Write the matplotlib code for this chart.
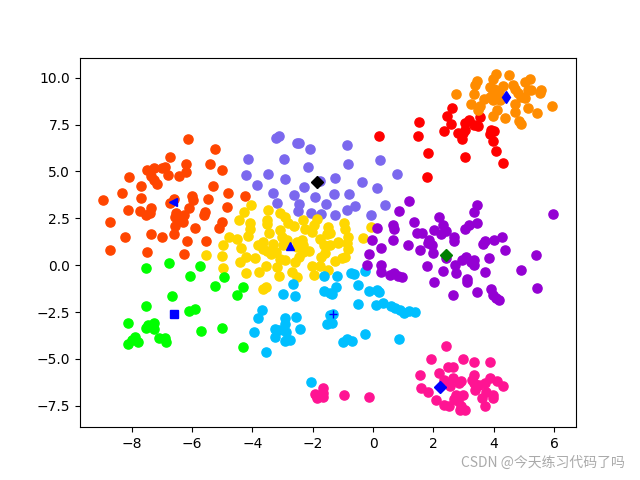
import matplotlib
matplotlib.use('Agg')
import matplotlib.pyplot as plt

# cluster members
orangered_x = [-6.15, -5.25, -6.75, -6.21, -5.42, -5.02, -6.21, -7.51, -7.28, -7.01, -6.90, -6.81, -6.45, -7.35, -7.25, -7.15, -8.08, -7.71, -5.32, -8.31, -8.97, -7.68, -4.82, -6.02, -5.98, -5.48, -4.25, -6.75, -6.61, -4.85, -6.12, -8.14, -7.74, -7.38, -7.41, -7.54, -6.55, -6.28, -5.58, -5.62, -6.58, -6.38, -8.71, -6.31, -5.02, -6.58, -5.12, -5.92, -7.35, -6.61, -8.24, -7.01, -6.18, -5.55, -8.71, -7.48, -6.28]
orangered_y = [6.72, 6.18, 5.79, 5.38, 5.38, 5.06, 4.99, 5.06, 5.17, 5.17, 5.22, 4.79, 4.74, 4.74, 4.53, 4.31, 4.69, 4.21, 4.21, 3.83, 3.46, 3.57, 3.83, 3.67, 3.46, 3.51, 3.67, 3.30, 3.51, 3.09, 3.03, 2.93, 2.87, 3.03, 2.76, 2.66, 2.76, 2.66, 2.82, 2.66, 2.55, 2.44, 2.28, 2.28, 2.28, 2.07, 1.96, 1.96, 1.64, 1.64, 1.48, 1.48, 1.27, 1.27, 0.79, 0.69, 0.58]

slate_x = [-3.11, -3.21, -2.52, -2.44, -2.09, -4.15, -2.96, -2.16, -4.22, -3.49, -2.92, -3.85, -2.29, -3.32, -2.62, -1.93, -3.19, -2.46, -1.56, -2.49, -2.06, -1.73, -1.77, -0.86, 0.23, -0.83, 0.80, -1.26, -0.37, 0.13, -1.30, -0.80, 0.40, -0.60, -0.86, -1.26, -0.07]
slate_y = [6.88, 6.77, 6.50, 6.50, 6.18, 5.65, 5.65, 5.22, 4.79, 4.85, 4.58, 4.26, 4.15, 3.83, 3.73, 3.62, 3.30, 3.25, 3.25, 2.87, 2.76, 2.71, 4.51, 6.39, 5.59, 5.38, 4.85, 4.63, 4.42, 4.10, 3.78, 3.78, 3.19, 3.14, 2.93, 2.66, 2.66]

gold_x = [-4.05, -3.49, -4.29, -3.09, -2.92, -4.45, -4.09, -3.52, -3.52, -2.82, -2.62, -2.33, -1.86, -1.96, -4.09, -3.09, -2.26, -2.03, -1.49, -1.53, -3.44, -4.15, -4.79, -4.52, -3.01, -1.76, -4.98, -4.39, -3.82, -3.66, -3.32, -2.86, -2.53, -2.35, -2.33, -1.63, -5.55, -5.02, -3.92, -4.22, -4.42, -4.98, -4.22, -3.79, -3.56, -3.66, -3.52, -3.39, -3.22, -3.09, -2.92, -3.19, -3.12, -2.69, -2.52, -2.59, -2.46, -2.33, -2.13, -2.03, -1.76, -1.96, -1.73, -1.59, -1.49, -3.66, -3.56, -2.99, -2.53, -1.16, -0.86, -0.83, -0.93, -1.03, -1.26, -0.96, -0.93, -0.83, -1.16, -0.33, -0.07, -1.44, -1.44]
gold_y = [3.19, 2.93, 2.82, 2.76, 2.55, 2.39, 2.23, 2.39, 2.18, 2.23, 2.07, 2.39, 2.44, 2.12, 1.91, 1.86, 1.91, 1.75, 2.02, 1.64, 1.70, 1.54, 1.48, 1.38, 1.48, 1.38, 1.06, 0.90, 1.06, 1.22, 1.11, 1.32, 1.22, 1.32, 1.06, 1.06, 0.53, 0.47, 0.37, 0.42, 0.15, -0.17, -0.43, -0.38, -0.06, 0.85, 0.78, 0.58, 0.69, 0.31, 0.26, -0.11, -0.60, -0.38, -0.65, 0.15, 0.42, 0.69, 0.74, -0.06, -0.06, -0.54, 0.42, 0.63, -0.27, -1.29, -1.15, 1.08, 0.99, 1.20, 1.20, 0.85, 0.46, 0.37, 0.20, 2.23, 1.91, 1.48, 1.22, 1.43, 2.02, 1.70, 1.06]

lime_x = [-7.54, -6.78, -5.75, -6.08, -4.95, -5.25, -4.32, -4.52, -6.68, -7.54, -5.92, -6.12, -8.14, -7.25, -7.45, -7.54, -7.28, -5.72, -5.02, -7.88, -7.11, -6.91, -7.98, -7.81, -6.88, -8.11, -4.32]
lime_y = [-0.17, 0.10, -0.06, -0.60, -0.65, -1.13, -1.18, -1.61, -1.66, -2.20, -2.36, -2.46, -3.10, -3.10, -3.21, -3.37, -3.42, -3.53, -3.37, -3.85, -3.90, -3.90, -4.01, -4.12, -4.12, -4.22, -4.38]

sky_x = [-2.66, -2.99, -2.59, -1.63, -1.63, -1.44, -3.69, -3.82, -2.92, -2.56, -2.92, -3.95, -3.26, -3.12, -2.89, -2.43, -3.26, -2.92, -2.76, -3.56, -2.06, -1.53, -1.44, -1.20, -0.73, -0.63, -0.27, -0.50, -1.23, -1.36, -0.13, 0.13, 0.20, -0.50, 0.10, 0.33, 0.60, 0.73, 0.90, 1.03, 1.20, 1.40, -1.36, -1.33, -0.86, -1.00, -0.70, -0.27, 0.87]
sky_y = [-1.02, -1.56, -1.66, -0.60, -1.40, -1.50, -2.41, -2.84, -2.84, -2.78, -3.16, -3.58, -3.42, -3.48, -3.58, -3.42, -3.85, -4.06, -4.01, -4.65, -6.25, -3.16, -2.68, -0.60, -0.43, -0.49, -0.33, -1.08, -1.18, -1.56, -1.40, -1.34, -1.45, -2.09, -2.14, -2.04, -2.20, -2.30, -2.41, -2.57, -2.46, -2.52, -3.10, -2.62, -3.96, -4.12, -4.06, -3.69, -3.96]

violet_x = [5.98, 1.20, 0.87, 3.43, 3.36, 2.19, 1.36, 3.43, 3.19, 3.06, 0.13, 0.67, 0.70, 2.33, 2.03, 2.43, 1.46, 1.63, 2.26, 2.69, 2.69, 1.86, -0.03, 0.67, 4.29, 4.02, 3.72, 3.66, 1.16, 1.83, 1.96, 0.27, 1.56, 4.36, -0.13, 1.99, 2.43, 3.09, 2.96, 3.33, 3.23, 2.73, 3.33, 3.83, 5.39, 1.80, 2.33, 2.76, 3.72, 4.89, -0.19, 0.27, 0.27, 0.57, 0.70, 0.83, 0.96, 2.03, 3.13, 3.13, 3.43, 3.92, 5.42, 3.99, 4.06, 4.19, 2.66]
violet_y = [2.71, 3.41, 2.87, 3.19, 2.82, 2.55, 2.28, 2.23, 2.12, 1.91, 1.96, 2.12, 1.91, 2.12, 1.86, 1.80, 1.70, 1.70, 1.64, 1.48, 1.27, 1.32, 1.32, 1.32, 1.48, 1.32, 1.27, 1.11, 1.06, 1.17, 1.06, 0.90, 0.81, 0.81, 0.58, 0.63, 0.37, 0.42, 0.26, 0.26, 0.15, 0.00, -0.01, 0.37, 0.53, -0.06, -0.33, -0.43, -0.38, -0.27, 0.00, 0.00, -0.38, -0.54, -0.43, -0.60, -0.65, -0.92, -0.75, -0.92, -1.45, -1.29, -1.24, -1.61, -1.77, -1.88, -1.61]

pink_x = [2.43, 1.93, 2.99, 3.33, 3.89, 2.49, 2.66, 1.56, 2.19, 3.36, 2.66, 2.36, 2.93, 2.86, 3.29, 3.89, 4.12, 4.32, 3.36, 3.72, 3.52, 2.56, 1.60, 1.83, 3.39, 3.76, -0.96, -0.13, 2.76, 2.99, 2.69, 2.83, 3.96, 3.99, 3.62, 2.09, 2.36, 2.53, 2.93, 3.72, 2.89, 3.06, -1.66, -1.66, -1.89, -1.86, -1.66, -1.93]
pink_y = [-4.33, -5.02, -5.02, -5.18, -5.18, -5.45, -5.45, -5.88, -5.77, -5.88, -6.04, -6.15, -6.20, -6.31, -6.15, -6.04, -6.20, -6.47, -6.31, -6.31, -6.41, -6.47, -6.57, -6.79, -6.68, -6.79, -6.95, -7.05, -6.95, -6.95, -7.16, -7.27, -6.95, -7.11, -7.11, -7.21, -7.48, -7.53, -7.53, -7.53, -7.75, -7.75, -6.57, -6.84, -6.95, -7.11, -7.02, -6.88]

red_x = [2.63, 2.46, 3.56, 2.59, 1.53, 3.19, 3.06, 3.33, 3.49, 2.36, 3.06, 2.83, 2.99, 4.02, 3.92, 3.86, 0.20, 1.50, 2.96, 3.96, 4.09, 1.83, 3.06, 4.32, 1.80]
red_y = [8.37, 7.94, 7.89, 7.52, 7.62, 7.73, 7.57, 7.46, 7.43, 7.14, 7.20, 7.04, 7.04, 7.14, 7.20, 6.98, 6.88, 6.88, 6.72, 6.61, 6.07, 5.97, 5.75, 5.43, 4.69]

orange_x = [4.09, 4.49, 5.19, 3.96, 3.46, 5.05, 3.39, 4.65, 4.32, 3.89, 4.72, 5.25, 5.15, 5.57, 5.55, 2.76, 3.36, 4.02, 4.16, 3.96, 4.10, 4.82, 4.89, 5.05, 3.86, 3.69, 3.96, 4.22, 3.26, 4.72, 3.56, 5.92, 5.12, 3.49, 4.12, 4.69, 5.45, 3.99, 4.36, 4.85, 4.92]
orange_y = [10.18, 10.13, 9.92, 9.92, 9.81, 9.76, 9.60, 9.60, 9.54, 9.49, 9.38, 9.33, 9.33, 9.33, 9.17, 9.12, 9.12, 9.38, 9.28, 9.17, 9.08, 9.17, 8.96, 8.90, 8.96, 8.85, 8.80, 8.80, 8.58, 8.58, 8.48, 8.48, 8.37, 8.26, 8.26, 8.16, 8.10, 7.94, 7.84, 7.68, 7.52]

# cluster centres
center_x = [-6.63, -1.86, -2.76, -6.60, -1.33, 2.22, 2.43, 4.42]
center_y = [3.35, 4.42, 1.04, -2.62, -2.62, -6.50, 0.56, 8.96]
center_marker = ['<', 'D', '^', 's', '+', 'D', 'D', 'd']
center_color = ['b', 'k', 'b', 'b', 'b', 'b', 'g', 'b']

clusters = [
    (orangered_x, orangered_y, 'orangered'),
    (slate_x, slate_y, 'mediumslateblue'),
    (gold_x, gold_y, 'gold'),
    (lime_x, lime_y, 'lime'),
    (sky_x, sky_y, 'deepskyblue'),
    (violet_x, violet_y, 'darkviolet'),
    (pink_x, pink_y, 'deeppink'),
    (red_x, red_y, 'red'),
    (orange_x, orange_y, 'darkorange'),
]

fig, ax = plt.subplots(figsize=(6.4, 4.8), dpi=100)
for xs, ys, c in clusters:
    ax.plot(xs, ys, 'o', color=c, markersize=6.6, zorder=2)
for i in range(len(center_x)):
    ax.plot(center_x[i], center_y[i], center_marker[i], color=center_color[i], zorder=3)

# watermark
fig.text(0.977, 0.035, 'CSDN @今天练习代码了吗', ha='right', va='center', fontsize=10,
         color='#aaaaaa', family=['Noto Sans CJK SC', 'DejaVu Sans'])

fig.savefig('out.png')
